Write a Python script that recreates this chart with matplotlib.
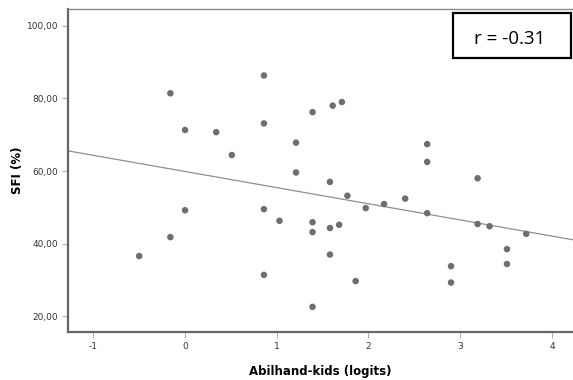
import numpy as np
import matplotlib.pyplot as plt
from matplotlib.patches import Rectangle

# Abilhand-kids (logits) vs SFI (%)
abilhand = [-0.50, -0.16, -0.16, 0.00, 0.00, 0.34, 0.51, 0.86, 0.86, 0.86,
            0.86, 1.03, 1.21, 1.21, 1.39, 1.39, 1.39, 1.39, 1.58, 1.58,
            1.58, 1.61, 1.71, 1.68, 1.77, 1.86, 1.97, 2.17, 2.40, 2.64,
            2.64, 2.64, 2.90, 2.90, 3.19, 3.19, 3.32, 3.51, 3.51, 3.72]
sfi = [36.6, 81.4, 41.8, 71.3, 49.2, 70.7, 64.4, 86.3, 73.1, 49.5,
       31.4, 46.3, 67.8, 59.6, 76.2, 45.9, 43.2, 22.6, 57.0, 44.3,
       37.0, 78.0, 79.0, 45.2, 53.2, 29.7, 49.8, 50.9, 52.4, 48.4,
       67.4, 62.5, 33.8, 29.3, 58.0, 45.4, 44.8, 38.5, 34.4, 42.7]
r_text = 'r = -0.31'

xticks = [-1, 0, 1, 2, 3, 4]
yticks = [20, 40, 60, 80, 100]

x = np.array(abilhand)
y = np.array(sfi)

fig = plt.figure(figsize=(5.73, 3.8), dpi=100)
ax = fig.add_axes([0.1187, 0.1263, 0.8813, 0.85])

ax.scatter(x, y, s=22, color='#6e6e6e', edgecolors='none', zorder=3)

# linear fit over the full x range
b, a = np.polyfit(x, y, 1)
xl = np.array([-1.276, 4.23])
ax.plot(xl, a + b * xl, color='#8f8f8f', lw=0.9, zorder=2)

ax.set_xlim(-1.276, 4.23)
ax.set_ylim(15.68, 104.6)
ax.set_xticks(xticks)
ax.set_xticklabels([str(t) for t in xticks])
ax.set_yticks(yticks)
ax.set_yticklabels(['%d,00' % t for t in yticks])
ax.tick_params(axis='both', direction='out', length=4, width=0.8,
               color='#b0b0b0', labelsize=6.5, labelcolor='#333333', pad=3)

for s in ['left', 'bottom']:
    ax.spines[s].set_color('#666666')
    ax.spines[s].set_linewidth(1.6)
ax.spines['top'].set_color('#8a8a8a')
ax.spines['top'].set_linewidth(1.0)
ax.spines['right'].set_visible(False)

ax.set_xlabel('Abilhand-kids (logits)', fontsize=8.5, fontweight='bold', labelpad=10)
ax.set_ylabel('SFI (%)', fontsize=8.5, fontweight='bold')
ax.yaxis.set_label_coords(-0.088, 0.5)

# correlation box
fig.add_artist(Rectangle((0.7906, 0.8474), 0.2065, 0.1184, transform=fig.transFigure,
                         fc='white', ec='black', lw=1.6, zorder=5))
fig.text(0.889, 0.897, r_text, fontsize=13.5, family='Open Sans',
         ha='center', va='center', zorder=6)

fig.savefig('out.png', dpi=100)
